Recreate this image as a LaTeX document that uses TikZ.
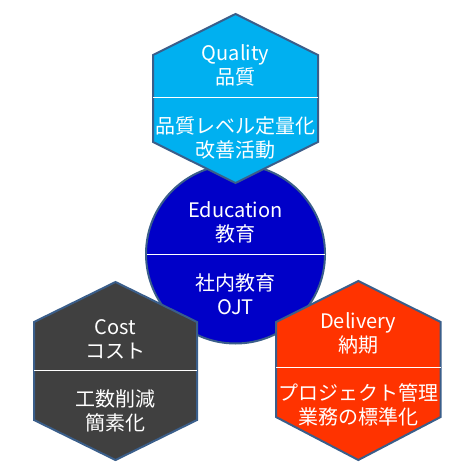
\documentclass[tikz,border=0pt]{standalone}
\usepackage{fontspec}
\setmainfont{Noto Sans CJK JP}
\usetikzlibrary{positioning}
\definecolor{qColor}{HTML}{00B0F0}
\definecolor{eColor}{HTML}{0000C8}
\definecolor{cColor}{HTML}{404040}
\definecolor{dColor}{HTML}{FF3300}
\definecolor{lineColor}{HTML}{3A5E8A}
% hexagon: #1 centre x, #2 half width, #3 top, #4 upper, #5 lower, #6 bottom
\newcommand{\hexa}[7]{\filldraw[shape line, fill=#7] (#1,#3) -- (#1+#2,#4) -- (#1+#2,#5) -- (#1,#6) -- (#1-#2,#5) -- (#1-#2,#4) -- cycle;}
\begin{document}
\begin{tikzpicture}[x=1pt, y=-1pt,
shape line/.style={draw=lineColor, line width=2pt, line join=miter},
divider/.style={draw=white, line width=0.8pt},
txt/.style={text=white, align=center, inner sep=0, font=\fontsize{20}{24}\selectfont}]
\useasboundingbox (0,0) rectangle (472,473);
% Education
\filldraw[shape line, fill=eColor] (235.5,254) circle (89.5);
\draw[divider] (146.5,254) -- (324.5,254);
\node[txt] (eTitle) at (235.5,222) {Education\\教育};
\node[txt] (eBody) at (235.5,294) {社内教育\\OJT};
% Quality
\hexa{235.5}{82.5}{14}{55}{142}{183}{qColor}
\draw[divider] (153,97) -- (318,97);
\node[txt] (qTitle) at (235.5,65) {Quality\\品質};
\node[txt] (qBody) at (235.5,137.5) {品質レベル定量化\\改善活動};
% Cost
\hexa{115.5}{81.5}{282}{322}{420}{460}{cColor}
\draw[divider] (34,370) -- (197,370);
\node[txt] (cTitle) at (115.5,339) {Cost\\コスト};
\node[txt] (cBody) at (115.5,410.5) {工数削減\\簡素化};
% Delivery
\hexa{358.3}{82.3}{281}{322}{417}{460}{dColor}
\draw[divider] (276,367) -- (440.6,367);
\node[txt] (dTitle) at (358.3,333) {Delivery\\納期};
\node[txt] (dBody) at (358.3,405) {プロジェクト管理\\業務の標準化};
\end{tikzpicture}
\end{document}
